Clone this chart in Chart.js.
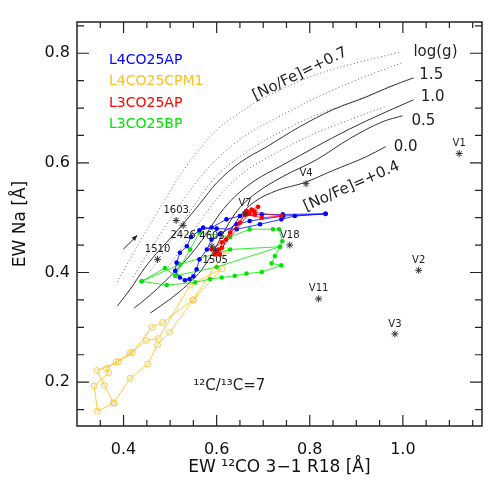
<!DOCTYPE html>
<html>
<head>
<meta charset="utf-8">
<script src="https://cdn.jsdelivr.net/npm/chart.js@4.4.1/dist/chart.umd.min.js"></script>
<style>
  html, body { margin: 0; padding: 0; background: #fff; }
</style>
</head>
<body>
<canvas id="chart" width="503" height="489"></canvas>
<script>
// axis ranges and ticks
const xMin = 0.3, xMax = 1.17;
const yMin = 0.12, yMax = 0.857;
const xTicks = [0.4, 0.6, 0.8, 1.0];
const yTicks = [0.2, 0.4, 0.6, 0.8];

// model curves, [Na/Fe]=+0.4 (solid), log(g) = 1.5, 1.0, 0.5, 0.0
const solid15 = [[0.3865,0.3387],[0.4144,0.3696],[0.4465,0.4096],[0.4786,0.4423],[0.5043,0.466],[0.5279,0.4885],[0.5643,0.526],[0.6008,0.5642],[0.65,0.6005],[0.7079,0.6296],[0.7786,0.666],[0.8493,0.6969],[0.9222,0.7205],[0.9714,0.7387],[1.0229,0.7551]];
const solid10 = [[0.4229,0.3351],[0.4572,0.3587],[0.4894,0.3842],[0.5215,0.4114],[0.5536,0.4423],[0.5815,0.4751],[0.6072,0.5078],[0.6394,0.5387],[0.6822,0.5678],[0.7358,0.5933],[0.7786,0.6133],[0.8493,0.646],[0.9222,0.6769],[1.0229,0.7151]];
const solid05 = [[0.4572,0.326],[0.5,0.3515],[0.5386,0.3787],[0.5686,0.406],[0.5922,0.4369],[0.6115,0.4678],[0.6286,0.4933],[0.65,0.5187],[0.6865,0.546],[0.7422,0.5751],[0.815,0.606],[0.8858,0.6442],[0.9565,0.6751],[0.9993,0.686]];
const solid00 = [[0.6115,0.4423],[0.6244,0.4678],[0.6394,0.4896],[0.6565,0.5096],[0.6822,0.5296],[0.7294,0.5496],[0.7893,0.5642],[0.8493,0.586],[0.9222,0.6115],[0.9629,0.6296]];

// model curves, [Na/Fe]=+0.7 (dotted)
const dot15 = [[0.3865,0.3824],[0.4079,0.4151],[0.4315,0.4515],[0.4572,0.4878],[0.4851,0.5278],[0.5151,0.5696],[0.5536,0.6151],[0.6008,0.6606],[0.65,0.6915],[0.6929,0.7151],[0.7465,0.7369],[0.8001,0.7569],[0.9072,0.7842],[0.9972,0.8024]];
const dot10 = [[0.4208,0.3914],[0.4465,0.4278],[0.4743,0.4642],[0.5043,0.5024],[0.5365,0.5424],[0.5751,0.5842],[0.6222,0.6242],[0.6715,0.6551],[0.7422,0.6878],[0.8001,0.7133],[0.8858,0.746],[0.9972,0.7824]];
const dot05 = [[0.4572,0.4024],[0.4851,0.4369],[0.5129,0.4733],[0.5429,0.5115],[0.5708,0.546],[0.6029,0.5787],[0.65,0.6115],[0.7143,0.646],[0.8001,0.6824],[0.8858,0.7096],[0.9886,0.7442]];
const dot00 = [[0.4958,0.4097],[0.5258,0.446],[0.5558,0.4824],[0.5858,0.5187],[0.6179,0.5515],[0.6608,0.5842],[0.7251,0.6169],[0.8001,0.6496],[0.8858,0.6787],[0.9607,0.7024]];

// model tracks
const trackBlue = [[0.563,0.477],[0.589,0.482],[0.621,0.497],[0.650,0.503],[0.697,0.506],[0.742,0.506],[0.834,0.507],[0.768,0.503],[0.739,0.497],[0.693,0.488],[0.643,0.479],[0.600,0.480],[0.571,0.482],[0.545,0.465],[0.536,0.448],[0.521,0.436],[0.514,0.418],[0.511,0.403],[0.521,0.391],[0.532,0.386],[0.542,0.388],[0.550,0.393],[0.557,0.406],[0.563,0.424],[0.579,0.442],[0.589,0.460],[0.607,0.470],[0.643,0.488],[0.671,0.494],[0.743,0.503],[0.834,0.507]];
const trackRed = [[0.604,0.442],[0.596,0.433],[0.607,0.433],[0.611,0.455],[0.629,0.473],[0.650,0.491],[0.664,0.512],[0.675,0.515],[0.689,0.520],[0.682,0.506],[0.661,0.506],[0.697,0.500],[0.739,0.503],[0.664,0.512],[0.670,0.508],[0.611,0.445],[0.600,0.438],[0.589,0.442],[0.620,0.460],[0.661,0.506],[0.680,0.512]];
const trackGreen = [[0.439,0.384],[0.489,0.408],[0.511,0.394],[0.543,0.442],[0.563,0.473],[0.629,0.465],[0.671,0.479],[0.721,0.479],[0.734,0.479],[0.741,0.457],[0.736,0.447],[0.725,0.430],[0.718,0.417],[0.739,0.413],[0.697,0.401],[0.664,0.398],[0.639,0.394],[0.611,0.391],[0.586,0.388],[0.554,0.382],[0.493,0.377],[0.439,0.384],[0.521,0.415],[0.629,0.442],[0.736,0.447],[0.600,0.410],[0.511,0.394]];
const trackOrange = [[0.620,0.440],[0.549,0.350],[0.484,0.309],[0.461,0.300],[0.419,0.254],[0.389,0.237],[0.343,0.221],[0.359,0.194],[0.379,0.162],[0.414,0.207],[0.452,0.233],[0.473,0.268],[0.499,0.291],[0.550,0.350],[0.611,0.407],[0.543,0.377],[0.475,0.280],[0.449,0.276],[0.414,0.253],[0.384,0.237],[0.363,0.225],[0.368,0.217],[0.337,0.193],[0.344,0.147],[0.379,0.162]];

// observed stars
const starNames = ["1603", "2426", "1510", "4603", "1505", "V7", "V4", "V18", "V11", "V2", "V3", "V1"];
const starX = [0.513, 0.528, 0.473, 0.590, 0.597, 0.661, 0.792, 0.757, 0.819, 1.034, 0.983, 1.121];
const starY = [0.495, 0.486, 0.424, 0.448, 0.441, 0.507, 0.562, 0.450, 0.352, 0.404, 0.288, 0.617];
const starBelow = ["2426", "1505"];

// legend
const legendNames = ["L4CO25AP", "L4CO25CPM1", "L3CO25AP", "L3CO25BP"];
const legendColors = ["#0000ff", "#ffbe1e", "#ff0000", "#00e600"];

// texts in data coords
const notes = [
  { t: "log(g)", x: 1.070, y: 0.802 },
  { t: "1.5", x: 1.061, y: 0.761 },
  { t: "1.0", x: 1.064, y: 0.720 },
  { t: "0.5", x: 1.044, y: 0.677 },
  { t: "0.0", x: 1.006, y: 0.628 },
  { t: "[No/Fe]=+0.7", x: 0.779, y: 0.762, rot: -26 },
  { t: "[No/Fe]=+0.4", x: 0.890, y: 0.557, rot: -24 },
  { t: "¹²C/¹³C=7", x: 0.627, y: 0.192 },
];
const arrow = [[0.3994, 0.4424], [0.4294, 0.4678]];

const pts = (arr) => arr.map((p) => ({ x: p[0], y: p[1] }));
const FONT = "'DejaVu Sans', sans-serif";

const curve = (data, dotted) => ({
  data: pts(data),
  showLine: true,
  borderColor: dotted ? "#666" : "#333",
  borderWidth: 1,
  borderDash: dotted ? [1, 2.5] : [],
  pointRadius: 0,
  cubicInterpolationMode: "monotone",
});

const track = (data, color, open) => ({
  data: pts(data),
  showLine: true,
  borderColor: color,
  borderWidth: 0.8,
  backgroundColor: open ? "rgba(0,0,0,0)" : color,
  pointBorderColor: color,
  pointBackgroundColor: open ? "rgba(0,0,0,0)" : color,
  pointRadius: open ? 3 : 2.3,
  pointBorderWidth: open ? 0.8 : 0,
  tension: 0,
});

// marco, ticks para dentro e textos
const extras = {
  id: "extras",
  afterDatasetsDraw(chart) {
    const { ctx, chartArea: a, scales } = chart;
    const sx = scales.x, sy = scales.y;
    ctx.save();
    ctx.strokeStyle = "#222";
    ctx.lineWidth = 1.5;
    ctx.strokeRect(a.left, a.top, a.right - a.left, a.bottom - a.top);

    ctx.lineWidth = 1.2;
    ctx.beginPath();
    for (let k = 7; k * 0.05 < xMax - 0.001; k++) {
      const px = sx.getPixelForValue(k * 0.05);
      const len = k % 4 === 0 ? 11 : 6;
      ctx.moveTo(px, a.bottom); ctx.lineTo(px, a.bottom - len);
      ctx.moveTo(px, a.top); ctx.lineTo(px, a.top + len);
    }
    for (let k = 3; k * 0.05 < yMax - 0.001; k++) {
      const py = sy.getPixelForValue(k * 0.05);
      const len = k % 4 === 0 ? 12 : 7;
      ctx.moveTo(a.left, py); ctx.lineTo(a.left + len, py);
      ctx.moveTo(a.right, py); ctx.lineTo(a.right - len, py);
    }
    ctx.stroke();

    // arrow
    const x0 = sx.getPixelForValue(arrow[0][0]), y0 = sy.getPixelForValue(arrow[0][1]);
    const x1 = sx.getPixelForValue(arrow[1][0]), y1 = sy.getPixelForValue(arrow[1][1]);
    const ang = Math.atan2(y1 - y0, x1 - x0);
    ctx.lineWidth = 1;
    ctx.strokeStyle = "#222";
    ctx.fillStyle = "#222";
    ctx.beginPath(); ctx.moveTo(x0, y0); ctx.lineTo(x1, y1); ctx.stroke();
    ctx.beginPath();
    ctx.moveTo(x1, y1);
    ctx.lineTo(x1 - 6 * Math.cos(ang - 0.4), y1 - 6 * Math.sin(ang - 0.4));
    ctx.lineTo(x1 - 6 * Math.cos(ang + 0.4), y1 - 6 * Math.sin(ang + 0.4));
    ctx.closePath(); ctx.fill();

    // star labels
    ctx.font = "10px " + FONT;
    ctx.textAlign = "center";
    ctx.textBaseline = "middle";
    starNames.forEach((n, i) => {
      const px = sx.getPixelForValue(starX[i]);
      const py = sy.getPixelForValue(starY[i]);
      ctx.fillText(n, px, starBelow.includes(n) ? py + 10 : py - 10);
    });

    // notes
    ctx.font = "15px " + FONT;
    notes.forEach((n) => {
      ctx.save();
      ctx.translate(sx.getPixelForValue(n.x), sy.getPixelForValue(n.y));
      if (n.rot) ctx.rotate((n.rot * Math.PI) / 180);
      ctx.fillText(n.t, 0, 0);
      ctx.restore();
    });

    // legend
    ctx.font = "14px " + FONT;
    ctx.textAlign = "left";
    legendNames.forEach((n, i) => {
      ctx.fillStyle = legendColors[i];
      ctx.fillText(n, a.left + 32, a.top + 38 + i * 21.5);
    });
    ctx.restore();
  },
};

new Chart(document.getElementById("chart"), {
  type: "scatter",
  data: {
    datasets: [
      {
        data: starNames.map((n, i) => ({ x: starX[i], y: starY[i] })),
        pointStyle: "star",
        pointRadius: 3.5,
        borderColor: "#333",
        borderWidth: 1,
        showLine: false,
      },
      track(trackRed, "#ff0000"),
      track(trackBlue, "#0000ff"),
      track(trackGreen, "#00e600"),
      track(trackOrange, "#ffbe1e", true),
      curve(solid15), curve(solid10), curve(solid05), curve(solid00),
      curve(dot15, true), curve(dot10, true), curve(dot05, true), curve(dot00, true),
    ],
  },
  options: {
    responsive: false,
    animation: false,
    layout: { padding: { top: 22, right: 21, left: 0, bottom: 0 } },
    plugins: { legend: { display: false }, tooltip: { enabled: false } },
    scales: {
      x: {
        min: xMin,
        max: xMax,
        afterBuildTicks: (s) => { s.ticks = xTicks.map((v) => ({ value: v })); },
        afterFit: (s) => { s.height = 63; },
        grid: { display: false, drawTicks: false },
        border: { display: false },
        ticks: { color: "#111", font: { family: FONT, size: 16 }, padding: 14, callback: (v) => v.toFixed(1) },
        title: { display: true, text: "EW ¹²CO 3−1 R18 [Å]", color: "#111", font: { family: FONT, size: 17 }, padding: { bottom: 11 } },
      },
      y: {
        min: yMin,
        max: yMax,
        afterBuildTicks: (s) => { s.ticks = yTicks.map((v) => ({ value: v })); },
        afterFit: (s) => { s.width = 77; },
        grid: { display: false, drawTicks: false },
        border: { display: false },
        ticks: { color: "#111", font: { family: FONT, size: 16 }, padding: 7, callback: (v) => v.toFixed(1) },
        title: { display: true, text: "EW Na [Å]", color: "#111", font: { family: FONT, size: 17 }, padding: { top: 10 } },
      },
    },
  },
  plugins: [extras],
});
</script>
</body>
</html>
